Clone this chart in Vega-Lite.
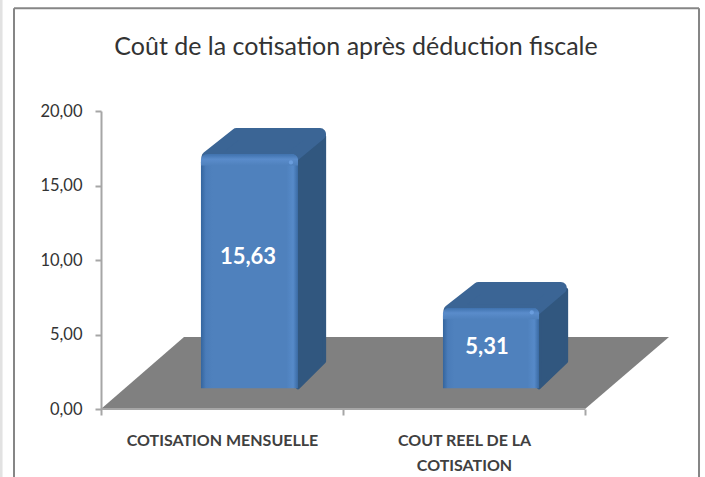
{
"$schema":"https://vega.github.io/schema/vega-lite/v6.json",
"width":568,"height":298,
"autosize":{"type":"none"},
"padding":{"left":101,"top":111,"right":36,"bottom":68},
"background":"white",
"title":{"text":"Coût de la cotisation après déduction fiscale","font":"Lato","fontSize":25,"fontWeight":"normal","color":"#333333","anchor":"middle","dx":-29,"offset":-62},
"config":{"view":{"stroke":null}},
"datasets":{
"bars":[
{"categorie":"COTISATION MENSUELLE","valeur":15.63,"texte":"15,63","x0":0.413,"x1":0.814,"base":1.4,"top":17.1,"xc":0.6075,"yt":10.2,"xs":0.785,"ys":16.55},
{"categorie":"COUT REEL DE LA COTISATION","valeur":5.31,"texte":"5,31","x0":1.413,"x1":1.81,"base":1.4,"top":6.78,"xc":1.595,"yt":4.16,"xs":1.78,"ys":6.48}
],
"toit":[
{"b":"a","y":16.9,"xa":0.44,"xb":0.79},
{"b":"a","y":18.45,"xa":0.56,"xb":0.905},
{"b":"b","y":6.6,"xa":1.44,"xb":1.79},
{"b":"b","y":8.12,"xa":1.56,"xb":1.9}
],
"flanc":[
{"b":"a","x":0.814,"ya":1.45,"yb":17.0},
{"b":"a","x":0.922,"ya":3.2,"yb":18.3},
{"b":"b","x":1.81,"ya":1.45,"yb":6.7},
{"b":"b","x":1.922,"ya":3.2,"yb":8.0}
],
"sol":[
{"y":0,"xa":0,"xb":2},
{"y":4.83,"xa":0.343,"xb":2.347}
]
},
"layer":[
{"data":{"values":[{"x":-0.413,"y":-4.6,"y2":27.5}]},
 "mark":{"type":"rule","stroke":"#e2e2e2","strokeWidth":3},
 "encoding":{"x":{"field":"x","type":"quantitative","scale":{"domain":[0,2.347],"nice":false,"zero":false},"title":null,
   "axis":{"values":[0,0.5,1,1.5,2],"domain":false,"grid":false,"tickColor":"#a6a6a6","tickWidth":2,"tickSize":6,
     "tickOpacity":{"condition":{"test":"datum.value==0.5||datum.value==1.5","value":0},"value":1},
     "labelFont":"Lato","labelFontSize":16,"labelFontWeight":"bold","labelColor":"#404040","labelPadding":17,"labelLineHeight":25,"labelLimit":400,"labelAngle":0,"labelOverlap":false,"labelBaseline":"top","labelAlign":"center",
     "labelExpr":"datum.value==0.5?'COTISATION MENSUELLE':datum.value==1.5?['COUT REEL DE LA','COTISATION']:''"}},
  "y":{"field":"y","type":"quantitative","scale":{"domain":[0,20],"nice":false},"title":null,
   "axis":{"values":[0,5,10,15,20],"grid":false,"domainColor":"#a6a6a6","domainWidth":2,"tickColor":"#a6a6a6","tickWidth":2,"tickSize":6,
     "labelFont":"Lato","labelFontSize":16.5,"labelColor":"#333333","labelPadding":13,
     "labelExpr":"replace(format(datum.value,'.2f'),'.',',')"}},
  "y2":{"field":"y2"}}},
{"data":{"values":[{"x":-0.3595,"y":-4.6,"y2":26.9},{"x":2.471,"y":-4.6,"y2":26.9}]},
 "mark":{"type":"rule","stroke":"#868686","strokeWidth":2},
 "encoding":{"x":{"field":"x","type":"quantitative"},"y":{"field":"y","type":"quantitative"},"y2":{"field":"y2"}}},
{"data":{"values":[{"x":-0.3595,"x2":2.471,"y":26.9}]},
 "mark":{"type":"rule","stroke":"#868686","strokeWidth":2},
 "encoding":{"x":{"field":"x","type":"quantitative"},"x2":{"field":"x2"},"y":{"field":"y","type":"quantitative"}}},
{"data":{"name":"sol"},
 "mark":{"type":"area","orient":"horizontal","fill":"#808080"},
 "encoding":{"y":{"field":"y","type":"quantitative"},"x":{"field":"xa","type":"quantitative","stack":null},"x2":{"field":"xb"}}},
{"data":{"values":[{"x":0,"x2":2,"y":0}]},
 "mark":{"type":"rule","stroke":"#a6a6a6","strokeWidth":2},
 "encoding":{"x":{"field":"x","type":"quantitative"},"x2":{"field":"x2"},"y":{"field":"y","type":"quantitative"}}},
{"data":{"name":"flanc"},
 "mark":{"type":"area","orient":"vertical","fill":"#31577f","stroke":"#31577f","strokeWidth":4,"strokeJoin":"round"},
 "encoding":{"x":{"field":"x","type":"quantitative"},"y":{"field":"ya","type":"quantitative","stack":null},"y2":{"field":"yb"},"detail":{"field":"b"}}},
{"data":{"name":"toit"},
 "mark":{"type":"area","orient":"horizontal","fill":"#3b6595","stroke":"#3b6595","strokeWidth":12,"strokeJoin":"round"},
 "encoding":{"y":{"field":"y","type":"quantitative"},"x":{"field":"xa","type":"quantitative","stack":null},"x2":{"field":"xb"},"detail":{"field":"b"}}},
{"data":{"name":"bars"},
 "mark":{"type":"rect","cornerRadiusTopLeft":8,"cornerRadiusTopRight":6,"fill":{"gradient":"linear","x1":0,"x2":1,"y1":0,"y2":0,"stops":[{"offset":0,"color":"#34659e"},{"offset":0.05,"color":"#4a7cb9"},{"offset":0.12,"color":"#4f81bd"},{"offset":0.88,"color":"#4f81bd"},{"offset":0.95,"color":"#568ac9"},{"offset":1,"color":"#3a6aa3"}]}},
 "encoding":{"x":{"field":"x0","type":"quantitative"},"x2":{"field":"x1"},"y":{"field":"base","type":"quantitative"},"y2":{"field":"top"}}},
{"data":{"name":"bars"},
 "transform":[{"calculate":"datum.top-0.75","as":"bande"}],
 "mark":{"type":"rect","cornerRadiusTopLeft":8,"cornerRadiusTopRight":6,"fill":{"gradient":"linear","x1":0,"x2":0,"y1":0,"y2":1,"stops":[{"offset":0,"color":"#3f72ae"},{"offset":0.45,"color":"#5a8ccb"},{"offset":1,"color":"#4f81bd"}]}},
 "encoding":{"x":{"field":"x0","type":"quantitative"},"x2":{"field":"x1"},"y":{"field":"bande","type":"quantitative"},"y2":{"field":"top"}}},
{"data":{"name":"bars"},
 "mark":{"type":"point","shape":"circle","filled":true,"size":18,"color":"#6fa3e4","opacity":0.8},
 "encoding":{"x":{"field":"xs","type":"quantitative"},"y":{"field":"ys","type":"quantitative"}}},
{"data":{"name":"bars"},
 "mark":{"type":"text","font":"Lato","fontSize":22,"fontWeight":"bold","color":"white","align":"center","baseline":"middle"},
 "encoding":{"x":{"field":"xc","type":"quantitative"},"y":{"field":"yt","type":"quantitative"},"text":{"field":"texte"}}}
]
}
